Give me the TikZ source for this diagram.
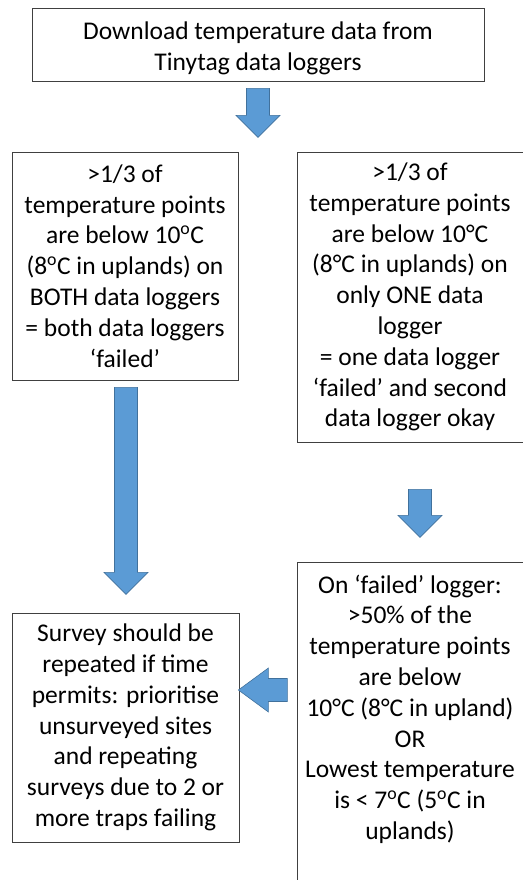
\documentclass[tikz,border=0pt]{standalone}
\usepackage{fontspec}
\setmainfont{Carlito}
\usepackage{xcolor}
\usetikzlibrary{calc, positioning}

\definecolor{arrowfill}{HTML}{5B9BD5}
\definecolor{arrowline}{HTML}{41719C}

\begin{document}
\begin{tikzpicture}[
    x=1pt, y=-1pt,
    font=\fontsize{25.5}{30.8}\selectfont,
    box/.style={
        draw=black!75,
        line width=0.8pt,
        align=center,
        inner sep=0pt
    },
    blockarrow/.style={
        draw=arrowline,
        fill=arrowfill,
        line width=0.6pt,
        to path={
            let \p1=(\tikztostart), \p2=(\tikztotarget),
                \n1={atan2(\y2-\y1,\x2-\x1)},
                \n2={veclen(\x2-\x1,\y2-\y1)} in
            [shift={(\p1)}, rotate=\n1]
            (0pt,11.5pt) -- (\n2-#1,11.5pt) -- (\n2-#1,22pt) -- (\n2,0pt)
            -- (\n2-#1,-22pt) -- (\n2-#1,-11.5pt) -- (0pt,-11.5pt) -- cycle
        }
    },
    blockarrow/.default=22pt
]

\useasboundingbox (0,0) rectangle (522,880);

% Download step
\node[box, minimum width=452pt, minimum height=73pt, text height=58pt, text depth=6pt]
    (download) at (258,44.5)
    {Download temperature data from\\Tinytag data loggers};

% Both loggers failed
\node[box, minimum width=226pt, minimum height=228pt] (both) at (125,266)
    {>1/3 of\\temperature points\\are below 10\textsuperscript{o}C\\(8\textsuperscript{o}C in uplands) on\\BOTH data loggers\\= both data loggers\\‘failed’};

% One logger failed
\node[box, minimum width=226pt, minimum height=290pt] (one) at (410,297)
    {>1/3 of\\temperature points\\are below 10°C\\(8°C in uplands) on\\only ONE data\\logger\\= one data logger\\‘failed’ and second\\data logger okay};

\node[box, minimum width=226pt, anchor=north, inner ysep=12pt,
      text height=265pt, text depth=330pt] (failedlog) at (410,562)
    {On ‘failed’ logger:\\>50\% of the\\temperature points\\are below\\10°C (8°C in upland)\\OR\\Lowest temperature\\is < 7\textsuperscript{o}C (5\textsuperscript{o}C in\\uplands)};

% Outcome
\node[box, minimum width=227pt, minimum height=229pt] (survey) at (125.5,727.5)
    {Survey should be\\repeated if time\\permits: prioritise\\unsurveyed sites\\and repeating\\surveys due to 2 or\\more traps failing};

% Block arrows
\coordinate (a1s) at ($(download.south)+(0,7)$);
\coordinate (a1e) at ($(download.south)+(0,56)$);
\coordinate (a2s) at ($(both.south)+(1,7)$);
\coordinate (a2e) at ($(both.south)+(1,214)$);
\coordinate (a3s) at ($(one.south)+(10,47)$);
\coordinate (a3e) at ($(one.south)+(10,95)$);
\coordinate (a4s) at ($(survey.east)+(48,-37.5)$);
\coordinate (a4e) at ($(survey.east)+(-1,-37.5)$);

\draw[blockarrow] (a1s) to (a1e);
\draw[blockarrow] (a2s) to (a2e);
\draw[blockarrow] (a3s) to (a3e);
\draw[blockarrow=30pt] (a4s) to (a4e);

\end{tikzpicture}
\end{document}
